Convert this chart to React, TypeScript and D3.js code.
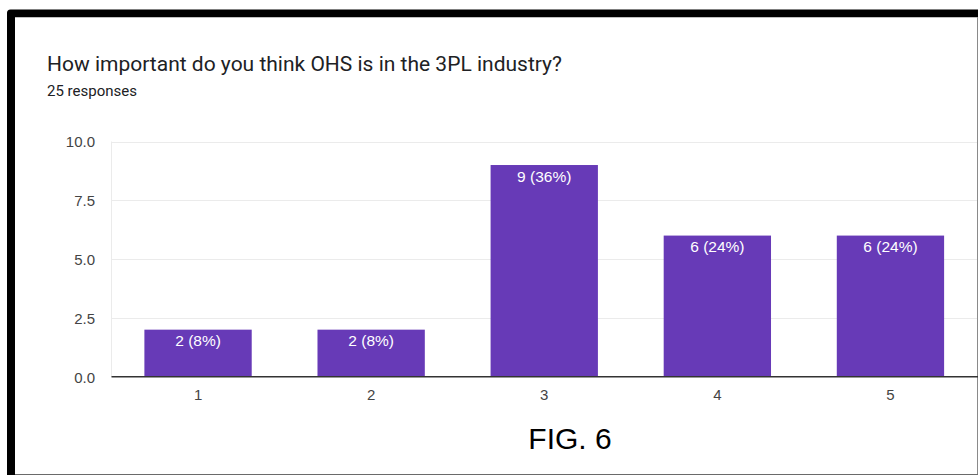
import React from "react";
import * as d3 from "d3";

const categories = ["1", "2", "3", "4", "5"];
const counts = [2, 2, 9, 6, 6];
const percents = [8, 8, 36, 24, 24];
const yTicks = [0, 2.5, 5, 7.5, 10];
const title = "How important do you think OHS is in the 3PL industry?";
const subtitle = "25 responses";
const figLabel = "FIG. 6";

const W = 978;
const H = 475;
const plot = { left: 111.5, right: 977, top: 141.5, bottom: 376.7 };

export default function App() {
  const x = d3
    .scaleBand<string>()
    .domain(categories)
    .range([plot.left, plot.right])
    .paddingInner(0.38)
    .paddingOuter(0.19);
  const y = d3.scaleLinear().domain([0, 10]).range([plot.bottom, plot.top]);
  const chartFont = "'Liberation Sans', Arial, sans-serif";

  return (
    <svg
      width={W}
      height={H}
      style={{ position: "absolute", left: 0, top: 0, background: "#fff" }}
    >
      <rect x={0} y={0} width={W} height={H} fill="#fff" />
      {/* frame */}
      <path
        d={`M7,${H} L7,13 Q7,9.5 10.5,9.5 L${W},9.5 L${W},17.3 L15,17.3 L15,${H} Z`}
        fill="#000"
      />
      <line x1={977.5} x2={977.5} y1={17} y2={H} stroke="#8a8a8a" strokeWidth={1} />
      <line x1={15} x2={W} y1={474.5} y2={474.5} stroke="#6a6a6a" strokeWidth={1} />

      <text x={47} y={70.5} fontFamily="Roboto, sans-serif" fontSize={21} fill="#202124">
        {title}
      </text>
      <text x={47} y={96} fontFamily="Roboto, sans-serif" fontSize={15} fill="#202124">
        {subtitle}
      </text>

      {/* gridlines */}
      {yTicks.map((t) => (
        <g key={t}>
          {t !== 0 && (
            <line
              x1={plot.left}
              x2={plot.right}
              y1={Math.round(y(t)) + 0.5}
              y2={Math.round(y(t)) + 0.5}
              stroke="#ebebeb"
              strokeWidth={1}
            />
          )}
          <text
            x={95}
            y={y(t) + 5.8}
            textAnchor="end"
            fontFamily={chartFont}
            fontSize={15}
            fill="#444"
          >
            {t.toFixed(1)}
          </text>
        </g>
      ))}
      <line
        x1={plot.left}
        x2={plot.left}
        y1={plot.top}
        y2={plot.bottom}
        stroke="#ebebeb"
        strokeWidth={1}
      />

      {/* bars */}
      {categories.map((c, i) => (
        <g key={c}>
          <rect
            x={x(c)}
            y={y(counts[i])}
            width={x.bandwidth()}
            height={y(0) - y(counts[i])}
            fill="#673ab7"
          />
          <text
            x={(x(c) as number) + x.bandwidth() / 2}
            y={y(counts[i]) + 16.6}
            textAnchor="middle"
            fontFamily={chartFont}
            fontSize={15.5}
            fill="#fff"
          >
            {`${counts[i]} (${percents[i]}%)`}
          </text>
          <text
            x={(x(c) as number) + x.bandwidth() / 2}
            y={400}
            textAnchor="middle"
            fontFamily={chartFont}
            fontSize={15}
            fill="#444"
          >
            {c}
          </text>
        </g>
      ))}

      {/* axis baseline */}
      <line
        x1={plot.left}
        x2={W}
        y1={376.7}
        y2={376.7}
        stroke="#333"
        strokeWidth={1.5}
      />

      <text
        x={570}
        y={449}
        textAnchor="middle"
        fontFamily="'Liberation Sans', Arial, sans-serif"
        fontSize={30}
        fill="#000"
      >
        {figLabel}
      </text>
    </svg>
  );
}
